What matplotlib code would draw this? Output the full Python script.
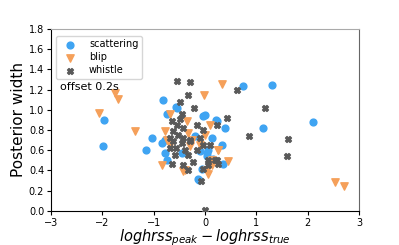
import matplotlib
matplotlib.use("Agg")
import matplotlib.pyplot as plt

# Datos: (loghrss_peak - loghrss_true, anchura posterior)
scat_x = [-1.97, -1.99, -1.03, -1.15, -0.82, -0.55, 0.74, 1.31, 2.11, 1.13, 0.39, 0.00, 0.21,
          -0.12, -0.57, -0.04, -0.74, 0.23, -0.78, -0.19, 0.14, -0.84, -0.78, -0.45, -0.10, 0.04,
          -0.74, -0.06, 0.16, -0.14, 0.33, 0.06, 0.04, 0.35]
scat_y = [0.90, 0.64, 0.72, 0.60, 1.10, 1.02, 1.23, 1.24, 0.88, 0.82, 0.82, 0.95, 0.90,
          0.30, 1.03, 0.94, 0.96, 0.89, 0.70, 0.74, 0.72, 0.67, 0.57, 0.57, 0.59, 0.57,
          0.50, 0.41, 0.51, 0.31, 0.65, 0.60, 0.54, 0.46]

blip_x = [-2.07, -1.75, -1.70, -1.36, 0.33, -0.02, 2.53, 2.71, 0.45, 0.26, -0.84, -0.43,
          -0.68, -0.35, -0.78, -0.33, 0.10, -0.74, -0.25, 0.00, -0.68, -0.29, -0.10, -0.39,
          0.14, 0.04, 0.25, 0.14, 0.06]
blip_y = [0.97, 1.17, 1.11, 0.79, 1.25, 1.15, 0.28, 0.24, 0.49, 0.60, 0.45, 0.39,
          0.96, 0.89, 0.79, 0.77, 0.85, 0.70, 0.70, 0.75, 0.65, 0.64, 0.65, 0.40,
          0.45, 0.40, 0.60, 0.50, 0.36]

whis_x = [-0.55, -0.29, -0.34, -0.49, -0.21, 0.62, 1.17, 0.43, 0.86, 1.62, 1.60, 0.00, -0.08,
          -0.45, -0.49, -0.64, -0.55, -0.43, -0.16, -0.04, -0.62, -0.53, -0.43, -0.29, -0.10,
          -0.68, -0.62, -0.45, -0.29, -0.57, -0.39, -0.68, -0.16, -0.04, -0.58, -0.33, -0.23,
          -0.43, -0.64, 0.06, 0.23, -0.04, -0.33, 0.10, 0.19, 0.25, 0.06, 0.23]
whis_y = [1.28, 1.27, 1.15, 1.08, 1.02, 1.20, 1.02, 0.92, 0.74, 0.71, 0.54, 0.01, 0.29,
          0.96, 0.91, 0.89, 0.85, 0.82, 0.85, 0.80, 0.79, 0.75, 0.72, 0.70, 0.72,
          0.72, 0.69, 0.67, 0.69, 0.62, 0.60, 0.62, 0.60, 0.65, 0.55, 0.55, 0.48,
          0.45, 0.46, 0.50, 0.50, 0.41, 0.40, 0.65, 0.50, 0.46, 0.45, 0.85]

fig = plt.figure(figsize=(3.99, 2.45), dpi=100)
ax = fig.add_axes([0.128, 0.14, 0.772, 0.742])

ax.scatter(scat_x, scat_y, s=24, marker='o', color='#3fa4f2', label='scattering', zorder=3)
ax.scatter(blip_x, blip_y, s=28, marker='v', color='#f5a05a', label='blip', zorder=3)
ax.scatter(whis_x, whis_y, s=18, marker='X', color='#595959', label='whistle', zorder=3)

ax.text(-2.83, 1.22, 'offset 0.2s', fontsize=8, va='center')

ax.set_xlim(-3, 3)
ax.set_ylim(0, 1.8)
ax.set_yticks([0.0, 0.2, 0.4, 0.6, 0.8, 1.0, 1.2, 1.4, 1.6, 1.8])
ax.tick_params(labelsize=7, length=3, width=0.8, pad=2)
ax.set_xlabel(r'$loghrss_{peak} - loghrss_{true}$', fontsize=10.5, labelpad=0)
ax.set_ylabel('Posterior width', fontsize=11, labelpad=2)
ax.spines['top'].set_color('#aaaaaa')
ax.spines['right'].set_color('#666666')

ax.legend(loc='upper left', fontsize=7, handletextpad=1.0, borderpad=0.4,
          labelspacing=0.3, bbox_to_anchor=(0.0, 0.99))

fig.savefig('out.png', dpi=100)
